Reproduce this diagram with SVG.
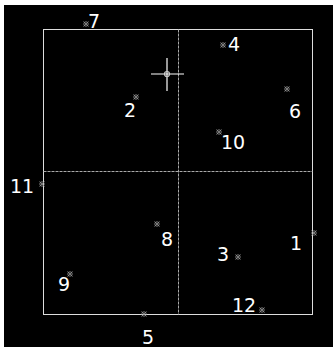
<svg xmlns="http://www.w3.org/2000/svg" width="333" height="347" viewBox="0 0 333 347">
<style>
.lbl{font-family:"DejaVu Sans",Verdana,sans-serif;font-size:19px;fill:#fff}
.mk{fill:none;stroke:#999;stroke-width:0.8}
.axis{stroke:#aaa;stroke-width:1;stroke-dasharray:3 1}
</style>
<defs>
<g id="m"><circle r="2.2" class="mk"/><path d="M-2.5,-2.5L2.5,2.5M-2.5,2.5L2.5,-2.5" class="mk"/></g>
</defs>
<rect width="333" height="347" fill="#000"/>
<rect x="0" y="0" width="333" height="5" fill="#fff"/>
<rect x="0" y="0" width="4" height="347" fill="#fff"/>
<g id="frame">
<rect x="43.5" y="29.5" width="269" height="285" fill="none" stroke="#ddd" stroke-width="1"/>
<line x1="178.5" y1="29.5" x2="178.5" y2="314.5" class="axis"/>
<line x1="43.5" y1="171.5" x2="312.5" y2="171.5" class="axis"/>
</g>
<g id="cursor" stroke="#fff" stroke-width="1.2">
<line x1="151" y1="74" x2="184" y2="74"/>
<line x1="167" y1="58" x2="167" y2="91"/>
<circle cx="167" cy="74" r="2.5" fill="none" stroke="#ccc"/>
</g>
<g id="p1"><use href="#m" x="314" y="233"/><text class="lbl" x="290" y="250">1</text></g>
<g id="p2"><use href="#m" x="136" y="97"/><text class="lbl" x="124" y="117">2</text></g>
<g id="p3"><use href="#m" x="238" y="257"/><text class="lbl" x="217" y="261">3</text></g>
<g id="p4"><use href="#m" x="223" y="45"/><text class="lbl" x="228" y="51">4</text></g>
<g id="p5"><use href="#m" x="144" y="314"/><text class="lbl" x="142" y="344">5</text></g>
<g id="p6"><use href="#m" x="287" y="89"/><text class="lbl" x="289" y="118">6</text></g>
<g id="p7"><use href="#m" x="86" y="24"/><text class="lbl" x="88" y="28">7</text></g>
<g id="p8"><use href="#m" x="157" y="224"/><text class="lbl" x="161" y="246">8</text></g>
<g id="p9"><use href="#m" x="70" y="274"/><text class="lbl" x="58" y="291">9</text></g>
<g id="p10"><use href="#m" x="219" y="132"/><text class="lbl" x="221" y="149">10</text></g>
<g id="p11"><use href="#m" x="42" y="184"/><text class="lbl" x="10" y="193">11</text></g>
<g id="p12"><use href="#m" x="262" y="310"/><text class="lbl" x="232" y="312">12</text></g>
</svg>
